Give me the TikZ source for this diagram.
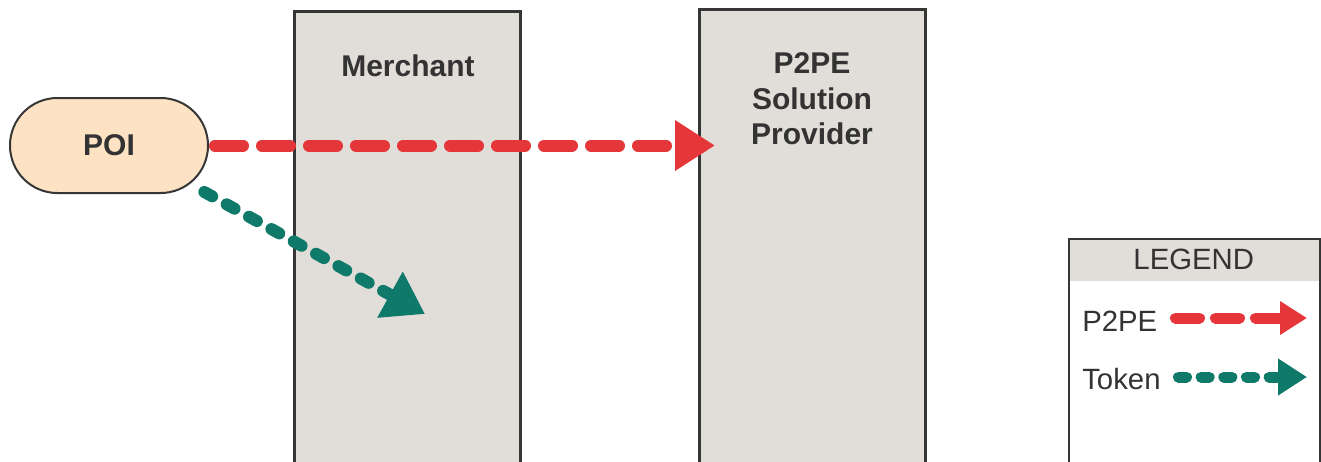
\documentclass[tikz,border=0pt]{standalone}
\usepackage{fontspec}
\setmainfont{Liberation Sans}
\usetikzlibrary{arrows.meta,calc}
\definecolor{boxfill}{HTML}{E1DDD8}
\definecolor{edge}{HTML}{363636}
\definecolor{poifill}{HTML}{FDE3C3}
\definecolor{p2pered}{HTML}{E5363A}
\definecolor{tokengreen}{HTML}{0F7A6A}
\definecolor{txt}{HTML}{333333}
\tikzset{
  col/.style={draw=edge, line width=1.9pt, fill=boxfill, inner sep=0pt},
  poinode/.style={draw=edge, line width=1.5pt, fill=poifill, rounded corners=35.5pt,
    minimum width=148.5pt, minimum height=71.25pt, inner sep=0pt,
    font=\fontsize{22.5}{26}\selectfont\bfseries, text=txt},
  title/.style={inner sep=0pt, font=\fontsize{22.5}{26.6}\selectfont\bfseries, text=txt, align=center},
  legtext/.style={inner sep=0pt, font=\fontsize{22}{26}\selectfont, text=txt},
  legbox/.style={draw=edge, line width=1.5pt, inner sep=0pt},
  legheadbox/.style={fill=boxfill, inner sep=0pt},
  p2peflow/.style={draw=p2pered, line width=9pt, line cap=round,
    dash pattern=on 21pt off 14.25pt,
    -{Triangle[length=30pt,width=36pt]}},
  tokenflow/.style={draw=tokengreen, line width=9pt, line cap=round,
    dash pattern=on 6.75pt off 12.4pt,
    -{Triangle[length=30pt,width=37.5pt]}},
  p2peleg/.style={draw=p2pered, line width=8.25pt, line cap=round,
    dash pattern=on 18pt off 12pt,
    -{Triangle[length=20.25pt,width=24pt]}},
  tokenleg/.style={draw=tokengreen, line width=8.25pt, line cap=round,
    dash pattern=on 6pt off 11pt,
    -{Triangle[length=21.75pt,width=26.25pt]}}
}
\begin{document}
\begin{tikzpicture}[x=0.75pt,y=-0.75pt]
\useasboundingbox (0,0) rectangle (1321,461);
\clip (0,0) rectangle (1321,461);
\fill[white] (0,0) rectangle (1321,461);

% columns
\node[col, anchor=north west, minimum width=169.5pt, minimum height=345pt] (merchant) at (293,10) {};
\node[col, anchor=north west, minimum width=169.5pt, minimum height=346.5pt] (provider) at (698,8) {};
\node[title, anchor=base] (merchantlbl) at (408,76) {Merchant};
\node[title, anchor=north] (providerlbl) at (812,52.5) {P2PE\\Solution\\Provider};

% point of interaction
\node[poinode] (poi) at (109,145.5) {POI};

% flows
\coordinate (tokentip) at (425,314);
\draw[p2peflow] ([xshift=4.5pt]poi.east) -- ($(provider.west |- poi.east)+(17,0)$);
\draw[tokenflow] ([xshift=-3.5pt,yshift=1.5pt]poi.south east) -- (tokentip);

% legend
\node[legheadbox, anchor=north west, minimum width=188.25pt, minimum height=32.25pt] (leghead) at (1068,238) {};
\node[legtext] (legtitle) at (leghead.center) {LEGEND};
\node[legbox, anchor=north west, minimum width=188.25pt, minimum height=174pt] (legend) at (1068,238) {};
\node[legtext, anchor=base west] (legp2pe) at (1082,331) {P2PE};
\node[legtext, anchor=base west] (legtoken) at (1082,389) {Token};
\coordinate (lrs) at (1175.5,318);
\coordinate (lre) at (1307,318);
\coordinate (lgs) at (1178.5,377);
\coordinate (lge) at (1307,377);
\draw[p2peleg] (lrs) -- (lre);
\draw[tokenleg] (lgs) -- (lge);
\end{tikzpicture}
\end{document}
